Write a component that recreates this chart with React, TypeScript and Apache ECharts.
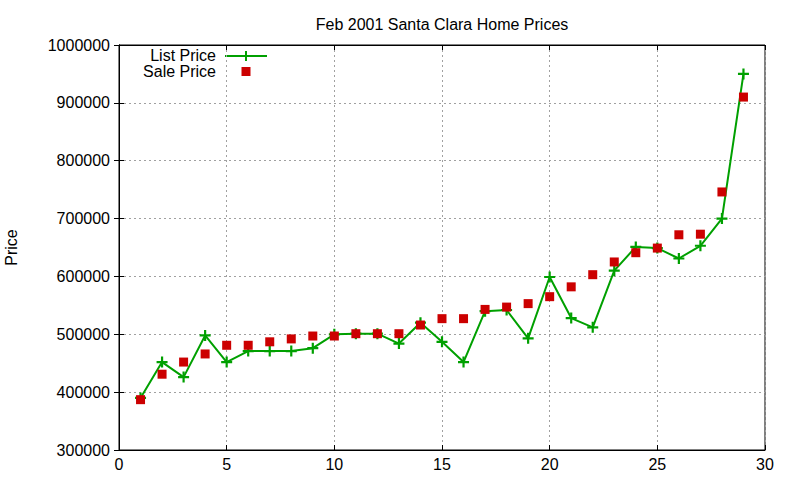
import { useEffect, useRef } from "react";
import * as echarts from "echarts";

const title = "Feb 2001 Santa Clara Home Prices";
const yName = "Price";

// house number along the x axis
const houses = [
  1, 2, 3, 4, 5, 6, 7, 8, 9, 10, 11, 12, 13, 14, 15, 16, 17, 18, 19, 20, 21, 22,
  23, 24, 25, 26, 27, 28, 29,
];

const listPrice = [
  390000, 452000, 426000, 498000, 452000, 471000, 471000, 471000, 476000, 500000,
  501000, 501000, 484000, 520000, 487000, 452000, 540000, 542000, 493000, 599000,
  528000, 512000, 610000, 651000, 649000, 631000, 653000, 700000, 950000,
];

const salePrice = [
  387000, 431000, 452000, 466000, 481000, 481000, 487000, 492000, 497000, 497000,
  501000, 501000, 501000, 516000, 527000, 527000, 543000, 547000, 553000, 565000,
  582000, 603000, 625000, 641000, 649000, 672000, 673000, 746000, 910000,
];

const seriesNames = ["List Price", "Sale Price"];

const GREEN = "#00a000";
const RED = "#cc0000";
const FONT = "Liberation Sans";
const FS = 16;
const PLUS = "path://M4,0H6V4H10V6H6V10H4V6H0V4H4Z";

const GRID = { left: 119, right: 35, top: 45, bottom: 30 };

export default function App() {
  const ref = useRef<HTMLDivElement>(null);

  useEffect(() => {
    if (!ref.current) return;
    const chart = echarts.init(ref.current, undefined, { renderer: "svg" });

    const gridLine = { show: true, lineStyle: { color: "#a0a0a0", type: [2, 3] as number[], width: 1 } };
    const tick = { show: true, inside: true, length: 5, lineStyle: { color: "#000" } };
    const label = { color: "#000", fontSize: FS, fontFamily: FONT };

    chart.setOption({
      animation: false,
      textStyle: { fontFamily: FONT },
      title: {
        text: title,
        left: 437,
        top: 11,
        textAlign: "center",
        textStyle: { fontSize: FS, fontWeight: "normal", color: "#000", fontFamily: FONT },
      },
      grid: {
        ...GRID,
        containLabel: false,
        outerBoundsMode: "none",
        show: true,
        borderColor: "#000",
        borderWidth: 1,
        backgroundColor: "transparent",
      },
      xAxis: [
        {
          type: "value",
          min: 0,
          max: 30,
          interval: 5,
          axisLine: { show: true, lineStyle: { color: "#000" } },
          axisTick: tick,
          axisLabel: { ...label, margin: 6 },
          splitLine: gridLine,
        },
        {
          type: "value",
          position: "top",
          min: 0,
          max: 30,
          interval: 5,
          axisLine: { show: true, lineStyle: { color: "#000" } },
          axisTick: tick,
          axisLabel: { show: false },
          splitLine: { show: false },
        },
      ],
      yAxis: [
        {
          type: "value",
          min: 300000,
          max: 1000000,
          interval: 100000,
          name: yName,
          nameLocation: "middle",
          nameGap: 100,
          nameRotate: 90,
          nameTextStyle: { ...label },
          axisLine: { show: true, lineStyle: { color: "#000" } },
          axisTick: tick,
          axisLabel: { ...label, margin: 9, formatter: (v: number) => String(v) },
          splitLine: gridLine,
        },
        {
          type: "value",
          position: "right",
          min: 300000,
          max: 1000000,
          interval: 100000,
          axisLine: { show: true, lineStyle: { color: "#000" } },
          axisTick: tick,
          axisLabel: { show: false },
          splitLine: { show: false },
        },
      ],
      series: [
        {
          name: seriesNames[0],
          type: "line",
          data: houses.map((h, i) => [h, listPrice[i]]),
          symbol: PLUS,
          symbolSize: 11,
          showAllSymbol: true,
          lineStyle: { color: GREEN, width: 2 },
          itemStyle: { color: GREEN, opacity: 1 },
          emphasis: { disabled: true },
          z: 2,
        },
        {
          name: seriesNames[1],
          type: "scatter",
          data: houses.map((h, i) => [h, salePrice[i]]),
          symbol: "rect",
          symbolSize: 9,
          itemStyle: { color: RED, opacity: 1 },
          emphasis: { disabled: true },
          z: 3,
        },
      ],
      graphic: [
        {
          type: "text",
          x: 216,
          y: 55,
          style: { text: seriesNames[0], align: "right", verticalAlign: "middle", fontSize: FS, fontFamily: FONT, fill: "#000" },
        },
        {
          type: "text",
          x: 216,
          y: 71,
          style: { text: seriesNames[1], align: "right", verticalAlign: "middle", fontSize: FS, fontFamily: FONT, fill: "#000" },
        },
        {
          type: "line",
          shape: { x1: 225, y1: 56, x2: 267, y2: 56 },
          style: { stroke: GREEN, lineWidth: 2 },
        },
        {
          type: "line",
          shape: { x1: 246, y1: 51, x2: 246, y2: 61 },
          style: { stroke: GREEN, lineWidth: 2 },
        },
        {
          type: "rect",
          shape: { x: 241.5, y: 67, width: 9, height: 9 },
          style: { fill: RED },
        },
      ],
    });

    return () => chart.dispose();
  }, []);

  return <div ref={ref} style={{ position: "absolute", left: 0, top: 0, width: 800, height: 480 }} />;
}
